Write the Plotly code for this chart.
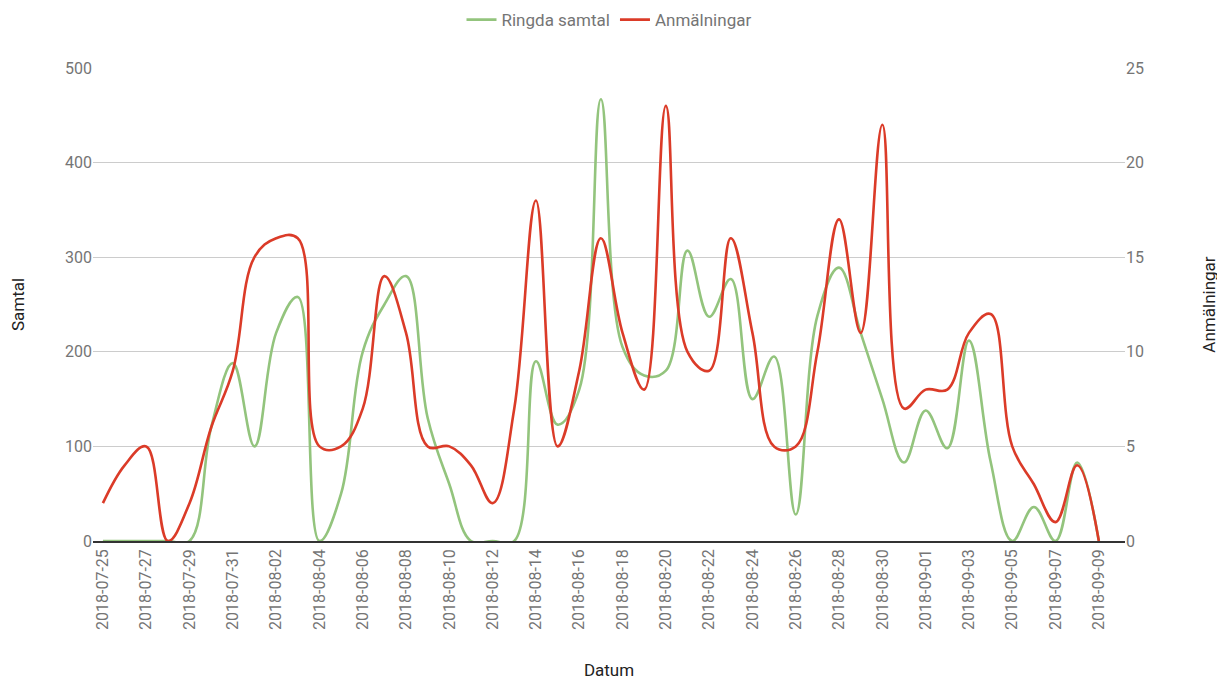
import pandas as pd
import plotly.graph_objects as go

# daily values 2018-07-25 .. 2018-09-09
datum = pd.date_range("2018-07-25", "2018-09-09", freq="D")

ringda_samtal = [0, 0, 0, 0, 0, 120, 188, 100, 220, 258,
                 0, 50, 200, 250, 280, 130, 60, 0, 0, 0,
                 190, 123, 160, 467, 205, 175, 180, 307, 237, 277,
                 150, 195, 28, 238, 289, 220, 150, 83, 138, 98,
                 212, 84, 0, 36, 0, 83, 0]

anmalningar = [2, 4, 5, 0, 2, 6, 9, 15, 16, 16,
               5, 5, 7, 14, 11, 5, 5, 4, 2, 7,
               18, 5, 9, 16, 11, 8, 23, 10, 9, 16,
               11, 5, 5, 10, 17, 11, 22, 7, 8, 8,
               11, 12, 5, 3, 1, 4, 0]

GREEN = "#93c47d"
RED = "#db3b28"
GREY = "#757575"

fig = go.Figure()

fig.add_trace(go.Scatter(
    x=datum, y=ringda_samtal, name="Ringda samtal",
    mode="lines", line=dict(color=GREEN, width=2.6, shape="spline", smoothing=1.1),
    yaxis="y"
))
fig.add_trace(go.Scatter(
    x=datum, y=anmalningar, name="Anmälningar",
    mode="lines", line=dict(color=RED, width=2.6, shape="spline", smoothing=1.1),
    yaxis="y2"
))

# page body has an 8px margin, so the figure is a bit smaller than the window
fig.update_layout(
    width=1217, height=672,
    margin=dict(l=85, r=100, t=60, b=139, autoexpand=False),
    paper_bgcolor="white", plot_bgcolor="white",
    font=dict(family="Roboto", size=16, color=GREY),
    showlegend=True,
    legend=dict(orientation="h", x=0.5, xanchor="center",
                yref="container", y=0.982, yanchor="middle",
                font=dict(size=17, color=GREY)),
    xaxis=dict(
        range=["2018-07-24 13:00", "2018-09-10 05:00"],
        tick0="2018-07-25", dtick=2 * 86400000, tickformat="%Y-%m-%d",
        tickangle=-90, showgrid=False, zeroline=False, automargin=False,
        showline=True, linecolor="#333333", linewidth=1.5,
        ticks="", tickfont=dict(size=16, color=GREY),
        title=dict(text="Datum", font=dict(size=17, color="#222222"), standoff=38),
    ),
    yaxis=dict(
        range=[0, 500], dtick=100, showgrid=True, gridcolor="#cccccc", gridwidth=1,
        zeroline=False, ticks="", automargin=False, tickfont=dict(size=16, color=GREY),
        title=dict(text="Samtal", font=dict(size=17, color="#222222"), standoff=45),
    ),
    yaxis2=dict(
        range=[0, 25], dtick=5, overlaying="y", side="right", showgrid=False,
        zeroline=False, ticks="", automargin=False, tickfont=dict(size=16, color=GREY),
        title=dict(text="Anmälningar", font=dict(size=17, color="#222222"), standoff=60),
    ),
)

fig.write_html("out.html")
